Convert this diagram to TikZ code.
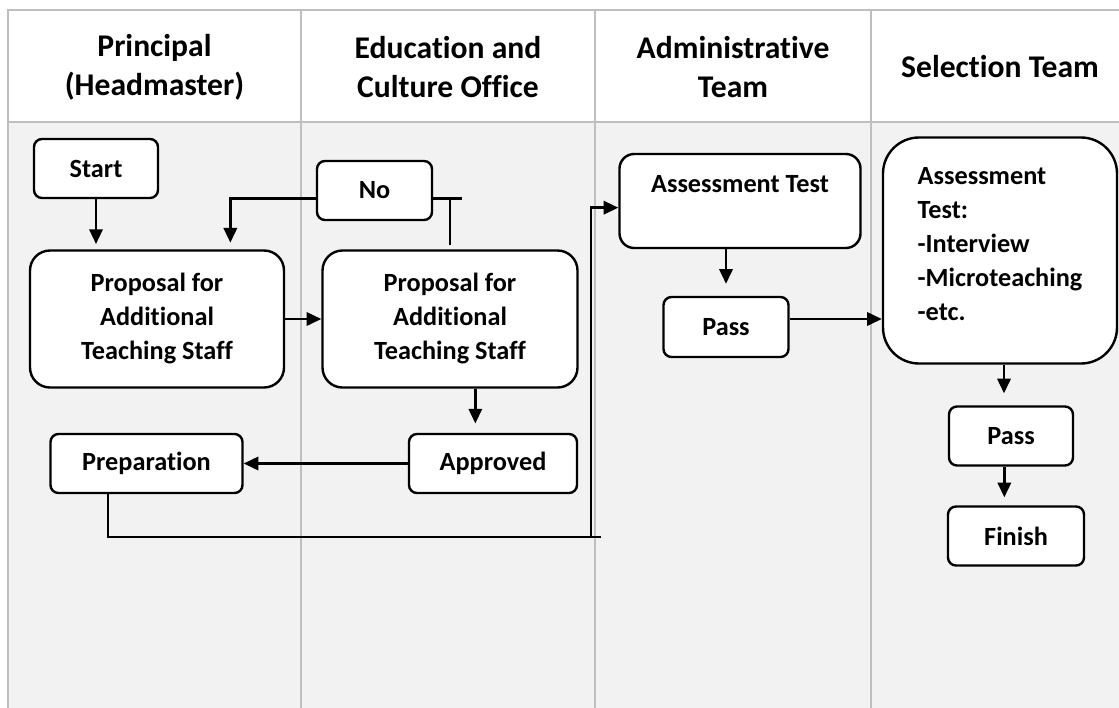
\documentclass[tikz,border=0pt]{standalone}
\usepackage{fontspec}
\setmainfont{Carlito}[Ligatures=NoCommon]
\usetikzlibrary{arrows.meta,positioning}
\definecolor{lanegray}{HTML}{F2F2F2}
\definecolor{gridgray}{HTML}{BFBFBF}

\begin{document}
\begin{tikzpicture}[x=0.75pt, y=-0.75pt]
\tikzstyle{lane}=[draw=gridgray, line width=1.5pt];
\tikzstyle{head}=[font=\bfseries\fontsize{23.7}{29.3}\selectfont, align=center];
\tikzstyle{stepbox}=[draw, fill=white, line width=1.8pt, rounded corners=6pt, align=center, inner sep=0pt, font=\bfseries\fontsize{19.7}{25.5}\selectfont];
\tikzstyle{bigbox}=[stepbox, rounded corners=15pt];
\tikzstyle{flow}=[line width=1.8pt, -{Triangle[length=11pt, width=10pt]}];
\tikzstyle{wire}=[line width=1.8pt];

\useasboundingbox (0,0) rectangle (1119,707);
\clip (0,0) rectangle (1119,707);

% swimlanes
\fill[white] (8,9.5) rectangle (1130,122);
\fill[lanegray] (8,122) rectangle (1130,720);
\draw[lane] (1130,9.5) -- (8,9.5) -- (8,720);
\draw[lane] (8,122) -- (1130,122);
\draw[lane] (301,9.5) -- (301,720);
\draw[lane] (595,9.5) -- (595,720);
\draw[lane] (871,9.5) -- (871,720);

\node[head] (h1) at (154.5, 67) {Principal\\(Headmaster)};
\node[head] (h2) at (448, 67) {Education and\\Culture Office};
\node[head] (h3) at (733, 67) {Administrative\\Team};
\node[head] (h4) at (1000, 67) {Selection Team};

% principal
\node[stepbox, minimum width=93pt, minimum height=44.25pt] (start) at (96, 168.5) {Start};
\node[bigbox, minimum width=190.5pt, minimum height=102.75pt] (prop1) at (157, 319) {Proposal for\\Additional\\Teaching Staff};
\node[stepbox, minimum width=144pt, minimum height=44.25pt] (prep) at (146.5, 463.5) {Preparation};

% office
\node[stepbox, minimum width=86.25pt, minimum height=44.25pt] (no) at (374.5, 190.5) {No};
\node[bigbox, minimum width=191.25pt, minimum height=102.75pt] (prop2) at (450, 319) {Proposal for\\Additional\\Teaching Staff};
\node[stepbox, minimum width=126pt, minimum height=44.25pt] (approved) at (493, 463.5) {Approved};

% administrative team
\node[stepbox, rounded corners=11pt, minimum width=180.75pt, minimum height=70.5pt] (assess) at (740, 201) {Assessment Test\\\mbox{}};
\node[stepbox, minimum width=93.75pt, minimum height=45pt] (pass) at (726, 327) {Pass};

% selection team
\node[stepbox, rounded corners=27pt, align=left, minimum width=175.5pt, minimum height=169.5pt] (select) at (1000, 250.5) {Assessment\\Test:\\-Interview\\-Microteaching\\-etc.\\[-16pt]\mbox{}};
\node[stepbox, minimum width=93pt, minimum height=44.25pt] (pass2) at (1011, 436) {Pass};
\node[stepbox, minimum width=102pt, minimum height=44.25pt] (finish) at (1016, 536) {Finish};

\coordinate (noend) at (462, 198.5);
\coordinate (joint) at (591, 537);
\coordinate (tail) at (601, 537);

\draw[flow, shorten >=4pt] (start.south) -- (start.south |- prop1.north);
\draw[flow, shorten >=5pt] ([yshift=-6pt]no.west) -| ([xshift=55pt]prop1.north);
\draw[wire] ([yshift=-6pt]no.east) -- (noend);
\draw[wire, shorten <=3pt] (prop2.north) -- (prop2.north |- noend);
\draw[flow] (prop1.east) -- (prop2.west);
\draw[flow, shorten >=7pt] ([xshift=19pt]prop2.south) -- ([xshift=19pt]prop2.south |- approved.north);
\draw[flow] (approved.west) -- (prep.east);

\draw[wire] ([xshift=-29pt]prep.south) |- (tail);
\draw[flow] (joint) |- ([yshift=-5pt]assess.west);
\draw[flow, shorten >=9pt] (assess.south -| pass.north) -- (pass.north);
\draw[flow] ([yshift=6pt]pass.east) -- ([yshift=6pt]pass.east -| select.west);

\draw[flow, shorten >=9pt] ([xshift=3pt]select.south) -- ([xshift=3pt]select.south |- pass2.north);
\draw[flow, shorten >=6pt] ([xshift=-5pt]pass2.south) -- ([xshift=-5pt]pass2.south |- finish.north);
\end{tikzpicture}
\end{document}
